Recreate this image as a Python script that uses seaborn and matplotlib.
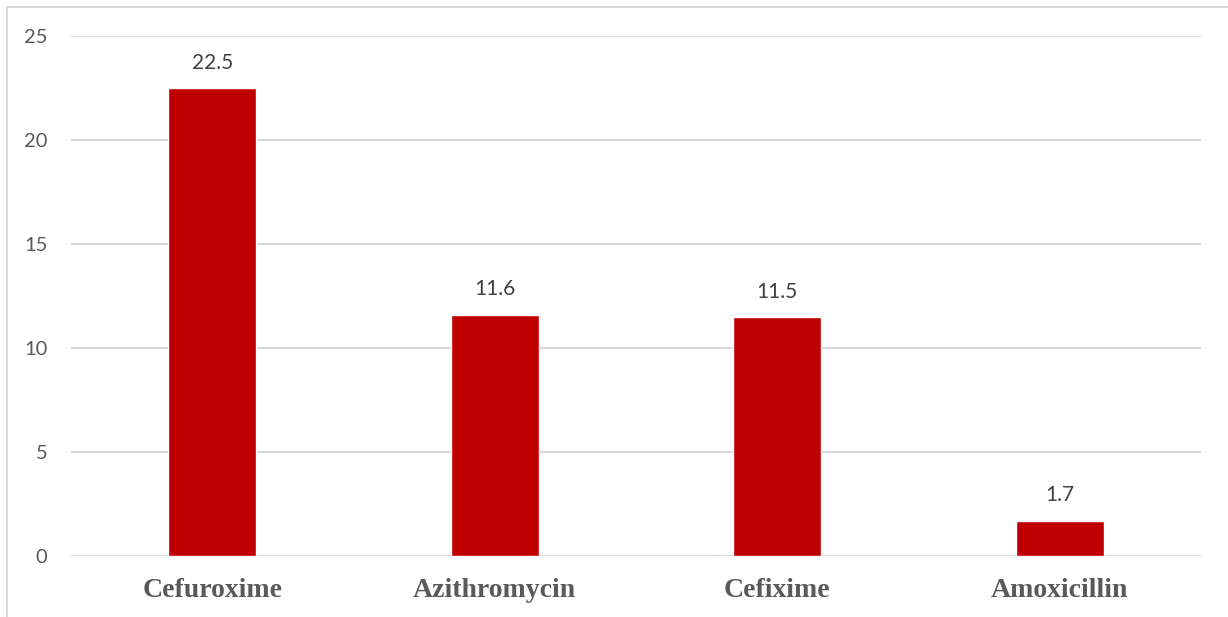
import matplotlib
matplotlib.use("Agg")
import matplotlib.pyplot as plt
from matplotlib.patches import Rectangle
import seaborn as sns
import pandas as pd

drugs = ["Cefuroxime", "Azithromycin", "Cefixime", "Amoxicillin"]
values = [22.5, 11.6, 11.5, 1.7]
yticks = [0, 5, 10, 15, 20, 25]

df = pd.DataFrame({"drug": drugs, "value": values})

sns.set_style("white")
plt.rcParams["font.family"] = ["Lato", "DejaVu Sans"]

fig = plt.figure(figsize=(12.28, 6.17), dpi=100)
ax = fig.add_axes([71 / 1228, 61 / 617, 1130 / 1228, 520 / 617])

sns.barplot(data=df, x="drug", y="value", color="#C00000", saturation=1,
            width=0.31, ax=ax, zorder=3)

ax.set_ylim(0, 25)
ax.set_xlim(-0.5, 3.5)
ax.set_yticks(yticks)
ax.set_yticklabels([str(t) for t in yticks], fontsize=14.5, color="#595959")
ax.grid(axis="y", color="#D9D9D9", linewidth=1.5, zorder=0)
ax.set_axisbelow(True)
for s in ax.spines.values():
    s.set_visible(False)
ax.tick_params(axis="both", length=0)
ax.tick_params(axis="y", pad=17)
ax.tick_params(axis="x", pad=16)
ax.set_xlabel("")
ax.set_ylabel("")
for lbl in ax.get_xticklabels():
    lbl.set_fontfamily("Liberation Serif")
    lbl.set_fontweight("bold")
    lbl.set_fontsize(20)
    lbl.set_color("#595959")

for i, v in enumerate(values):
    ax.annotate(f"{v}", (i, v), xytext=(0, 11), textcoords="offset points",
                ha="center", va="bottom", fontsize=15, color="#404040")

fig.patches.append(Rectangle((7 / 1228, -0.01), 1.05, (617 - 7) / 617 + 0.01,
                             transform=fig.transFigure, fill=False,
                             edgecolor="#D9D9D9", linewidth=1.5))

fig.savefig("out.png", dpi=100)
